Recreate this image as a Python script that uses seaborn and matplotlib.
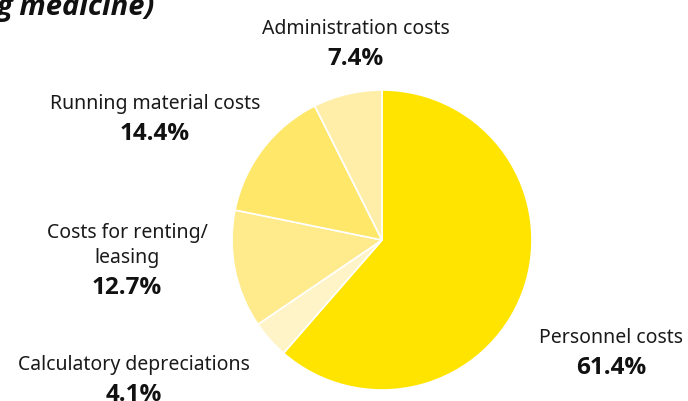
import matplotlib
matplotlib.use("Agg")
import matplotlib.pyplot as plt
import seaborn as sns

# slices, clockwise from 12 o'clock
categories = ["Personnel costs", "Calculatory depreciations", "Costs for renting/\nleasing",
              "Running material costs", "Administration costs"]
shares = [61.4, 4.1, 12.7, 14.4, 7.4]
colors = ["#FFE400", "#FFF4C8", "#FFEA8C", "#FFE76A", "#FFEEA8"]

# label anchor (x, baseline of first line) in pixels from top-left
label_pos = [(611, 343), (134, 370), (127, 238), (155, 109), (356, 34)]

W, H = 688, 401
sns.set_theme(style="white")
plt.rcParams["font.family"] = ["Noto Sans", "DejaVu Sans"]
bold_font = ["Open Sans", "DejaVu Sans"]

fig = plt.figure(figsize=(W / 100, H / 100), dpi=100)
ax = fig.add_axes([0, 0, 1, 1])

ax.pie(shares, colors=colors, startangle=90, counterclock=False,
       center=(382, H - 240), radius=150,
       wedgeprops=dict(edgecolor="white", linewidth=1.2))
ax.set_xlim(0, W)
ax.set_ylim(0, H)
ax.set_aspect("equal")
ax.axis("off")

for name, val, (x, y) in zip(categories, shares, label_pos):
    lines = name.split("\n")
    for i, line in enumerate(lines):
        ax.text(x, H - y - 25 * i, line, ha="center", va="baseline",
                fontsize=14, color="#1a1a1a")
    ax.text(x, H - y - 25 * (len(lines) - 1) - 31, f"{val}%", ha="center",
            va="baseline", fontsize=17.5, fontweight="bold", family=bold_font,
            color="#111111")

ax.text(-3, H - 15, "g medicine)", ha="left", va="baseline", fontsize=21,
        fontweight="bold", fontstyle="italic", family=bold_font, color="#111111")

fig.savefig("out.png", dpi=100)
